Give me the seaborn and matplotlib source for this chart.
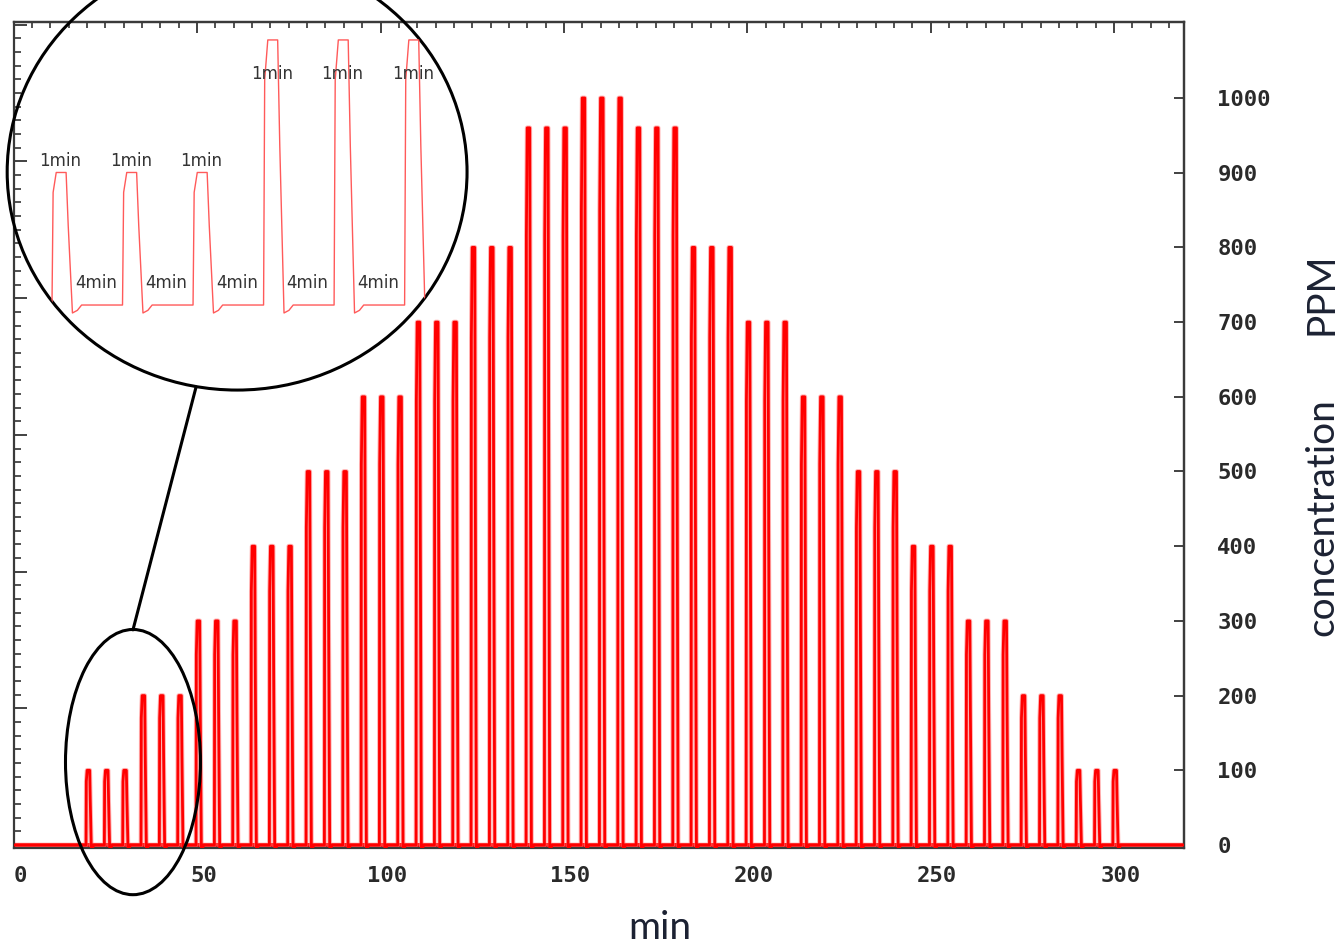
import numpy as np
import pandas as pd
import seaborn as sns
import matplotlib.pyplot as plt
from matplotlib.patches import Ellipse
from matplotlib.ticker import MultipleLocator

# peak concentration of each step (ppm) and start time of its first pulse (min)
level_peaks = [100, 200, 300, 400, 500, 600, 700, 800, 960, 1000,
               960, 800, 700, 600, 500, 400, 300, 200, 100]
level_start = [18, 33, 48, 63, 78, 93, 108, 123, 138, 153,
               168, 183, 198, 213, 228, 243, 258, 273, 288]
pulse_offsets = [0, 5, 10]          # three 1-min pulses per step, 4 min apart
record_span = [-2, 318]

# shape of one pulse: time after start, fraction of peak, extra offset (ppm)
shape_dt = [0, 0.08, 0.3, 1.0, 1.15, 1.45, 1.8, 2.1]
shape_frac = [0, 0.85, 1.0, 1.0, 0.6, 0, 0, 0]
shape_add = [0, 0, 0, 0, 0, -6, -4, 0]

x_ticks = [0, 50, 100, 150, 200, 250, 300]
y_ticks = [0, 100, 200, 300, 400, 500, 600, 700, 800, 900, 1000]

t, v = [record_span[0]], [0]
for start, peak in zip(level_start, level_peaks):
    for off in pulse_offsets:
        for dt, fr, ad in zip(shape_dt, shape_frac, shape_add):
            t.append(start + off + dt)
            v.append(peak * fr + ad)
t.append(record_span[1])
v.append(0)
trace = pd.DataFrame({'min': t, 'ppm': v})

sns.set_style('white')
mono = {'family': 'DejaVu Sans Mono', 'weight': 'bold', 'size': 16, 'color': '#2a2a2a'}

fig = plt.figure(figsize=(13.44, 9.46), dpi=100)
W, H = 1344, 946
ax = fig.add_axes([14 / W, 98 / H, 1170 / W, 826 / H])
ax.axhline(0, color='#ff0000', lw=3.6, zorder=1)
# faint halo + solid trace, like the scanned recorder output
sns.lineplot(data=trace, x='min', y='ppm', ax=ax, color='#ff8080', lw=3.4,
             sort=False, estimator=None, zorder=2, alpha=0.6)
sns.lineplot(data=trace, x='min', y='ppm', ax=ax, color='#ff0000', lw=2.0,
             sort=False, estimator=None, zorder=3)
ax.set_xlim(-1.64, 317.4)
ax.set_ylim(-4, 1101.7)
ax.set_xlabel('')
ax.set_ylabel('')

ax.set_xticks(x_ticks)
ax.tick_params(axis='x', length=0, pad=13)
for lab in ax.get_xticklabels():
    lab.set(**mono)

ax.yaxis.set_major_locator(MultipleLocator(183))
ax.yaxis.set_minor_locator(MultipleLocator(18.3))
ax.tick_params(axis='y', which='both', direction='in', left=True, right=False,
               labelleft=False, color='#333333')
ax.tick_params(axis='y', which='major', length=9, width=1.3)
ax.tick_params(axis='y', which='minor', length=5, width=1.2)

secy = ax.secondary_yaxis('right')
secy.set_yticks(y_ticks)
secy.tick_params(direction='in', length=7, width=1.3, pad=24, color='#333333')
for lab in secy.get_yticklabels():
    lab.set(**mono)

secx = ax.secondary_xaxis('top', functions=(lambda x: x + 1.7, lambda x: x - 1.7))
secx.xaxis.set_major_locator(MultipleLocator(50))
secx.xaxis.set_minor_locator(MultipleLocator(5))
secx.tick_params(which='both', direction='in', labeltop=False, color='#333333')
secx.tick_params(which='major', length=8, width=1.3)
secx.tick_params(which='minor', length=4, width=1.2)

for sp in list(ax.spines.values()) + [secx.spines['top'], secy.spines['right']]:
    sp.set_color('#3a3a3a')
    sp.set_linewidth(1.6)

# zoom circles
small = Ellipse((30.8, 111), 36.8, 355, fill=False, ec='black', lw=2.2,
                clip_on=False, zorder=5)
big = Ellipse((59.2, 901), 125.4, 584, fill=False, ec='black', lw=2.2,
              clip_on=False, zorder=5)
ax.add_patch(small)
ax.add_patch(big)
ax.plot([30.8, 48.0], [288, 613], color='black', lw=2.2, clip_on=False, zorder=5)

# inset: first two steps magnified
ins = fig.add_axes([40 / W, (H - 320) / H, 390 / W, 290 / H])
ins.patch.set_alpha(0)
sns.lineplot(data=trace, x='min', y='ppm', ax=ins, color='#ff5a5a', lw=1.0,
             sort=False, estimator=None)
ins.set_xlim(17.15, 44.8)
ins.set_ylim(-11.3, 207.5)
ins.axis('off')
ins.lines[0].set_clip_path(big)

label_y_1min = [109, 174]
for k, (start, peak) in enumerate(zip(level_start[:2], level_peaks[:2])):
    for off in pulse_offsets:
        ins.text(start + off + 0.6, label_y_1min[k], '1min', ha='center', va='center',
                 fontsize=12, color='#333333')
gaps = [start + off for start in level_start[:2] for off in pulse_offsets][:5]
for g in gaps:
    ins.text(g + 3.1, 16.6, '4min', ha='center', va='center', fontsize=12, color='#333333')

lab_style = {'family': 'Lato', 'size': 28, 'color': '#1c2233'}
fig.text(660 / W, 1 - 928 / H, 'min', ha='center', va='center', **lab_style)
fig.text(1322 / W, 1 - 517 / H, 'concentration', rotation=90, ha='center', va='center', **lab_style)
fig.text(1322 / W, 1 - 294 / H, 'PPM', rotation=90, ha='center', va='center', **lab_style)

fig.savefig('out.png', dpi=100)
